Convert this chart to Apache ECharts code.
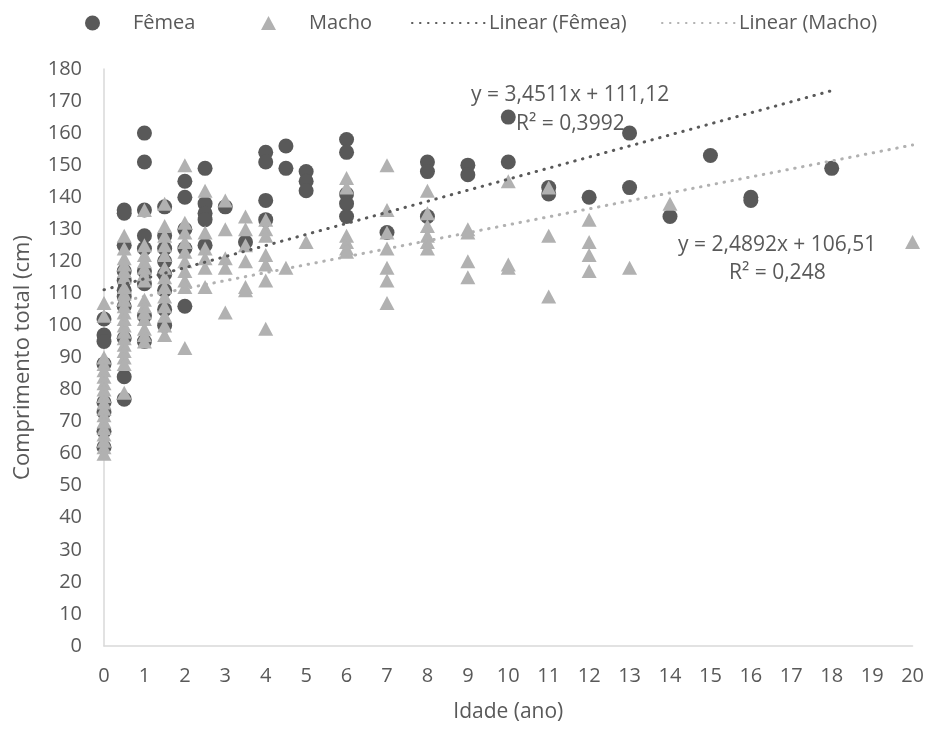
<!DOCTYPE html>
<html>
<head>
<meta charset="utf-8">
<script src="https://cdn.jsdelivr.net/npm/echarts@6/dist/echarts.min.js"></script>
<style>
  html, body { margin: 0; padding: 0; background: #ffffff; }
  #chart { width: 927px; height: 729px; }
</style>
</head>
<body>
<div id="chart"></div>
<script>
// Ages (years) and total lengths (cm) per age group
const femaleAges = [0, 0.5, 1, 1.5, 2, 2.5, 3, 3.5, 4, 4.5, 5, 6, 7, 8, 9, 10, 11, 12, 13, 14, 15, 16, 18];
const femaleLengths = [
  [102, 97, 95, 88, 76, 73, 67, 62],
  [136, 135, 125, 117, 114, 111, 109, 106, 96, 84, 77],
  [160, 151, 136, 128, 124, 117, 113, 103, 95],
  [137, 128, 124, 120, 116, 111, 105, 100],
  [145, 140, 130, 124, 106],
  [149, 138, 135, 133, 125],
  [137],
  [126],
  [154, 151, 139, 133],
  [156, 149],
  [148, 145, 142],
  [158, 154, 141, 138, 134],
  [129],
  [151, 148, 134],
  [150, 147],
  [165, 151],
  [143, 141],
  [140],
  [160, 143],
  [134],
  [153],
  [140, 139],
  [149]
];

const maleAges = [0, 0.5, 1, 1.5, 2, 2.5, 3, 3.5, 4, 4.5, 5, 6, 7, 8, 9, 10, 11, 12, 13, 14, 20];
const maleLengths = [
  [107, 103, 90, 88, 86, 84, 82, 80, 78, 76, 74, 72, 70, 68, 66, 64, 62, 60],
  [128, 124, 121, 119, 117, 115, 112, 110, 108, 106, 104, 102, 100, 98, 96, 94, 92, 90, 88, 79],
  [136, 125, 122, 120, 118, 116, 114, 108, 106, 104, 102, 99, 97, 95],
  [138, 131, 128, 125, 122, 118, 115, 112, 109, 106, 103, 100, 97],
  [150, 132, 129, 126, 123, 120, 117, 114, 112, 93],
  [142, 129, 124, 121, 118, 112],
  [139, 130, 121, 118, 104],
  [134, 130, 125, 120, 112, 111],
  [133, 130, 128, 122, 119, 114, 99],
  [118],
  [126],
  [146, 143, 128, 126, 124, 123],
  [150, 136, 129, 124, 118, 114, 107],
  [142, 135, 131, 128, 126, 124],
  [130, 129, 120, 115],
  [145, 119, 118],
  [143, 128, 109],
  [133, 126, 122, 117],
  [118],
  [138],
  [126]
];

// Linear trend coefficients (slope, intercept) and the age range each line covers
const femaleTrend = { slope: 3.4511, intercept: 111.12, xMax: 18 };
const maleTrend = { slope: 2.4892, intercept: 106.51, xMax: 20 };

const xTicks = { min: 0, max: 20, interval: 1 };
const yTicks = { min: 0, max: 180, interval: 10 };

function toPoints(ages, lengths) {
  const pts = [];
  ages.forEach((a, i) => lengths[i].forEach(v => pts.push([a, v])));
  return pts;
}
function trendPoints(t) {
  return [[0, t.intercept], [t.xMax, t.slope * t.xMax + t.intercept]];
}

const FONT = 'Open Sans';
const TXT = '#595959';
const DARK = '#595959';
const LIGHT = '#B1B1B1';

const legendText = { fontFamily: FONT, fontSize: 20, color: TXT };

function markerLegend(name, icon, left, textPad, size) {
  return {
    top: 8, left: left,
    itemWidth: size[0], itemHeight: size[1],
    textStyle: Object.assign({ padding: [0, 0, 0, textPad] }, legendText),
    data: [{ name: name, icon: icon }]
  };
}
function lineLegend(name, left) {
  return {
    top: 8, left: left,
    itemWidth: 75, itemHeight: 15, itemGap: 0,
    textStyle: Object.assign({ padding: [0, 0, 0, -3] }, legendText),
    data: [{ name: name, itemStyle: { opacity: 0 } }]
  };
}

const chart = echarts.init(document.getElementById('chart'), null, { renderer: 'canvas' });

chart.setOption({
  animation: false,
  backgroundColor: '#ffffff',
  textStyle: { fontFamily: FONT, color: TXT },
  legend: [
    markerLegend('Fêmea', 'circle', 80, 28, [15, 15]),
    markerLegend('Macho', 'triangle', 256, 28, [15, 14]),
    lineLegend('Linear (Fêmea)', 406),
    lineLegend('Linear (Macho)', 656)
  ],
  grid: { left: 104, right: 10, top: 69, bottom: 83, containLabel: false },
  xAxis: {
    type: 'value',
    min: xTicks.min, max: xTicks.max, interval: xTicks.interval,
    name: 'Idade (ano)',
    nameLocation: 'middle',
    nameGap: 56,
    nameTextStyle: { fontFamily: FONT, fontSize: 21, color: TXT },
    axisLine: { show: true, lineStyle: { color: '#D9D9D9', width: 1.5 } },
    axisTick: { show: false },
    splitLine: { show: false },
    axisLabel: { fontFamily: FONT, fontSize: 20, color: TXT, margin: 20 }
  },
  yAxis: {
    type: 'value',
    min: yTicks.min, max: yTicks.max, interval: yTicks.interval,
    name: 'Comprimento total (cm)',
    nameLocation: 'middle',
    nameGap: 70,
    nameTextStyle: { fontFamily: FONT, fontSize: 22, color: TXT },
    axisLine: { show: true, lineStyle: { color: '#D9D9D9', width: 1.5 } },
    axisTick: { show: false },
    splitLine: { show: false },
    axisLabel: { fontFamily: FONT, fontSize: 20, color: TXT, margin: 22 }
  },
  series: [
    {
      name: 'Fêmea',
      type: 'scatter',
      symbol: 'circle',
      symbolSize: 15,
      itemStyle: { color: DARK, opacity: 1 },
      data: toPoints(femaleAges, femaleLengths),
      z: 2
    },
    {
      name: 'Macho',
      type: 'scatter',
      symbol: 'triangle',
      symbolSize: [15, 14],
      itemStyle: { color: LIGHT, opacity: 1 },
      data: toPoints(maleAges, maleLengths),
      z: 3
    },
    {
      name: 'Linear (Fêmea)',
      type: 'line',
      symbol: 'none',
      itemStyle: { color: DARK },
      lineStyle: { color: DARK, width: 3, type: [0.5, 7.5], cap: 'round' },
      data: trendPoints(femaleTrend),
      z: 4
    },
    {
      name: 'Linear (Macho)',
      type: 'line',
      symbol: 'none',
      itemStyle: { color: LIGHT },
      lineStyle: { color: LIGHT, width: 3, type: [0.5, 7.5], cap: 'round' },
      data: trendPoints(maleTrend),
      z: 4
    }
  ],
  graphic: [
    { type: 'text', left: 471, top: 85, style: { text: 'y = 3,4511x + 111,12', font: '21px "Open Sans"', fill: TXT }, z: 10 },
    { type: 'text', left: 516, top: 114, style: { text: 'R² = 0,3992', font: '21px "Open Sans"', fill: TXT }, z: 10 },
    { type: 'text', left: 678, top: 235, style: { text: 'y = 2,4892x + 106,51', font: '21px "Open Sans"', fill: TXT }, z: 10 },
    { type: 'text', left: 729, top: 263, style: { text: 'R² = 0,248', font: '21px "Open Sans"', fill: TXT }, z: 10 }
  ]
});
</script>
</body>
</html>
